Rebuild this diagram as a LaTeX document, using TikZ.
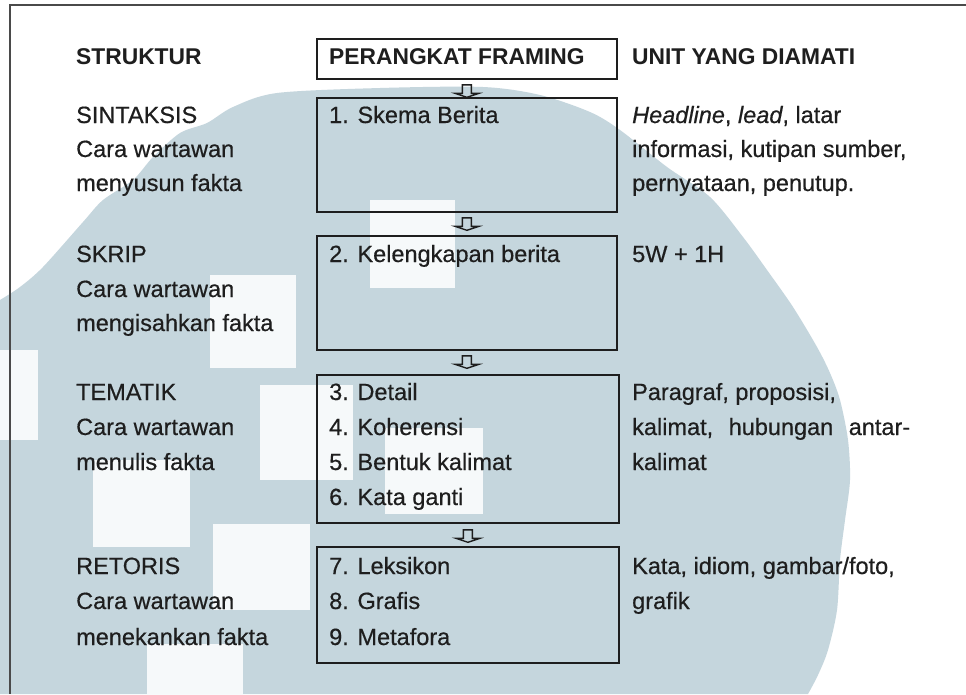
\documentclass[tikz,border=0pt]{standalone}
\usepackage{fontspec}
\setmainfont{Liberation Sans}[UprightFeatures={FakeBold=0.5},ItalicFeatures={FakeBold=0.5}]
\usetikzlibrary{calc}
\definecolor{wm}{HTML}{C5D6DD}
\definecolor{wmw}{HTML}{F6F9FA}
\definecolor{ink}{HTML}{1E1E1E}
\definecolor{framec}{HTML}{4A4A4A}
\begin{document}
\begin{tikzpicture}[x=1pt,y=-1pt,
  txt/.style={anchor=base west,inner sep=0pt,text=ink,font=\fontsize{23.5}{28}\selectfont},
  hd/.style={anchor=base west,inner sep=0pt,text=ink,font=\fontsize{22.8}{28}\selectfont\bfseries},
  boxst/.style={draw=ink,line width=1.8pt,anchor=north west,inner sep=0pt,minimum width=300pt},
  blk/.style={fill=wmw,draw=none},
  pics/harr/.style={code={\draw[ink,line width=1.4pt,line join=miter] (-4.5,0) -- (-4.5,8.5) -- (-12,8.5) -- (0,12.5) -- (12,8.5) -- (4.5,8.5) -- (4.5,0) -- cycle;}}
]
\useasboundingbox (0,0) rectangle (966,694);
\fill[white] (0,0) rectangle (966,694);
% watermark
\fill[wm] plot[smooth,tension=0.5] coordinates {(0,300) (20,287) (43,267) (83,222) (103,200) (133,180) (153,157) (180,133) (207,123) (233,107) (277,93) (380,88) (483,87) (540,95) (590,112) (620,130) (667,167) (710,197) (743,237) (767,270) (793,307) (817,347) (830,373) (840,400) (848,440) (850,480) (845,520) (840,560) (837,610) (828,650) (818,675) (808,694)} -- (0,694) -- cycle;
\fill[blk] (370,200) rectangle (455,288);
\fill[blk] (210,275) rectangle (296,368);
\fill[blk] (0,350) rectangle (38,440);
\fill[blk] (260,385) rectangle (353,480);
\fill[blk] (93,460) rectangle (190,547);
\fill[blk] (213,524) rectangle (310,610);
\fill[blk] (147,644) rectangle (243,694);
\fill[blk] (385,428) rectangle (483,514);
% frame
\draw[framec,line width=2pt] (966,5) -- (10,5) -- (10,694);
% boxes
\node[boxst,minimum height=40pt] (hdr) at (316,38) {};
\node[boxst,minimum height=114pt] (b1) at (316,97) {};
\node[boxst,minimum height=114pt] (b2) at (316,235) {};
\node[boxst,minimum width=302pt,minimum height=148pt] (b3) at (316,374) {};
\node[boxst,minimum width=302pt,minimum height=116pt] (b4) at (316,546) {};
% arrows
\pic at ($(hdr.south)+(0,5)$) {harr};
\pic at ($(b1.south)+(0,5)$) {harr};
\pic at ($(b2.south)+(0,5)$) {harr};
\pic at ($(b3.south)+(0,6)$) {harr};
% headings
\node[hd] (h1) at (76,64) {STRUKTUR};
\node[hd] (h2) at (329,64) {PERANGKAT FRAMING};
\node[hd] (h3) at (632,64) {UNIT YANG DIAMATI};
% left column
\node[txt] (l1a) at (76,123) {SINTAKSIS};
\node[txt] (l1b) at (76,157) {Cara wartawan};
\node[txt] (l1c) at (76,191) {menyusun fakta};
\node[txt] (l2a) at (76,262) {SKRIP};
\node[txt] (l2b) at (76,297) {Cara wartawan};
\node[txt] (l2c) at (76,331) {mengisahkan fakta};
\node[txt] (l3a) at (76,400) {TEMATIK};
\node[txt] (l3b) at (76,435) {Cara wartawan};
\node[txt] (l3c) at (76,470) {menulis fakta};
\node[txt] (l4a) at (76,574) {RETORIS};
\node[txt] (l4b) at (76,609) {Cara wartawan};
\node[txt] (l4c) at (76,645) {menekankan fakta};
% middle column
\node[txt] (m1) at (329,123) {1. Skema Berita};
\node[txt] (m2) at (329,262) {2. Kelengkapan berita};
\node[txt] (m3) at (329,400) {3. Detail};
\node[txt] (m4) at (329,435) {4. Koherensi};
\node[txt] (m5) at (329,470) {5. Bentuk kalimat};
\node[txt] (m6) at (329,505) {6. Kata ganti};
\node[txt] (m7) at (329,574) {7. Leksikon};
\node[txt] (m8) at (329,609) {8. Grafis};
\node[txt] (m9) at (329,645) {9. Metafora};
% right column
\node[txt] (r1a) at (632,123) {\textit{Headline}, \textit{lead}, latar};
\node[txt] (r1b) at (632,157) {informasi, kutipan sumber,};
\node[txt] (r1c) at (632,191) {pernyataan, penutup.};
\node[txt] (r2a) at (632,262) {5W + 1H};
\node[txt] (r3a) at (632,400) {Paragraf, proposisi,};
\node[txt] (r3b) at (632,435) {\hbox to 278pt{kalimat,\hfil hubungan\hfil antar-}};
\node[txt] (r3c) at (632,470) {kalimat};
\node[txt] (r4a) at (632,574) {Kata, idiom, gambar/foto,};
\node[txt] (r4b) at (632,609) {grafik};
\end{tikzpicture}
\end{document}
